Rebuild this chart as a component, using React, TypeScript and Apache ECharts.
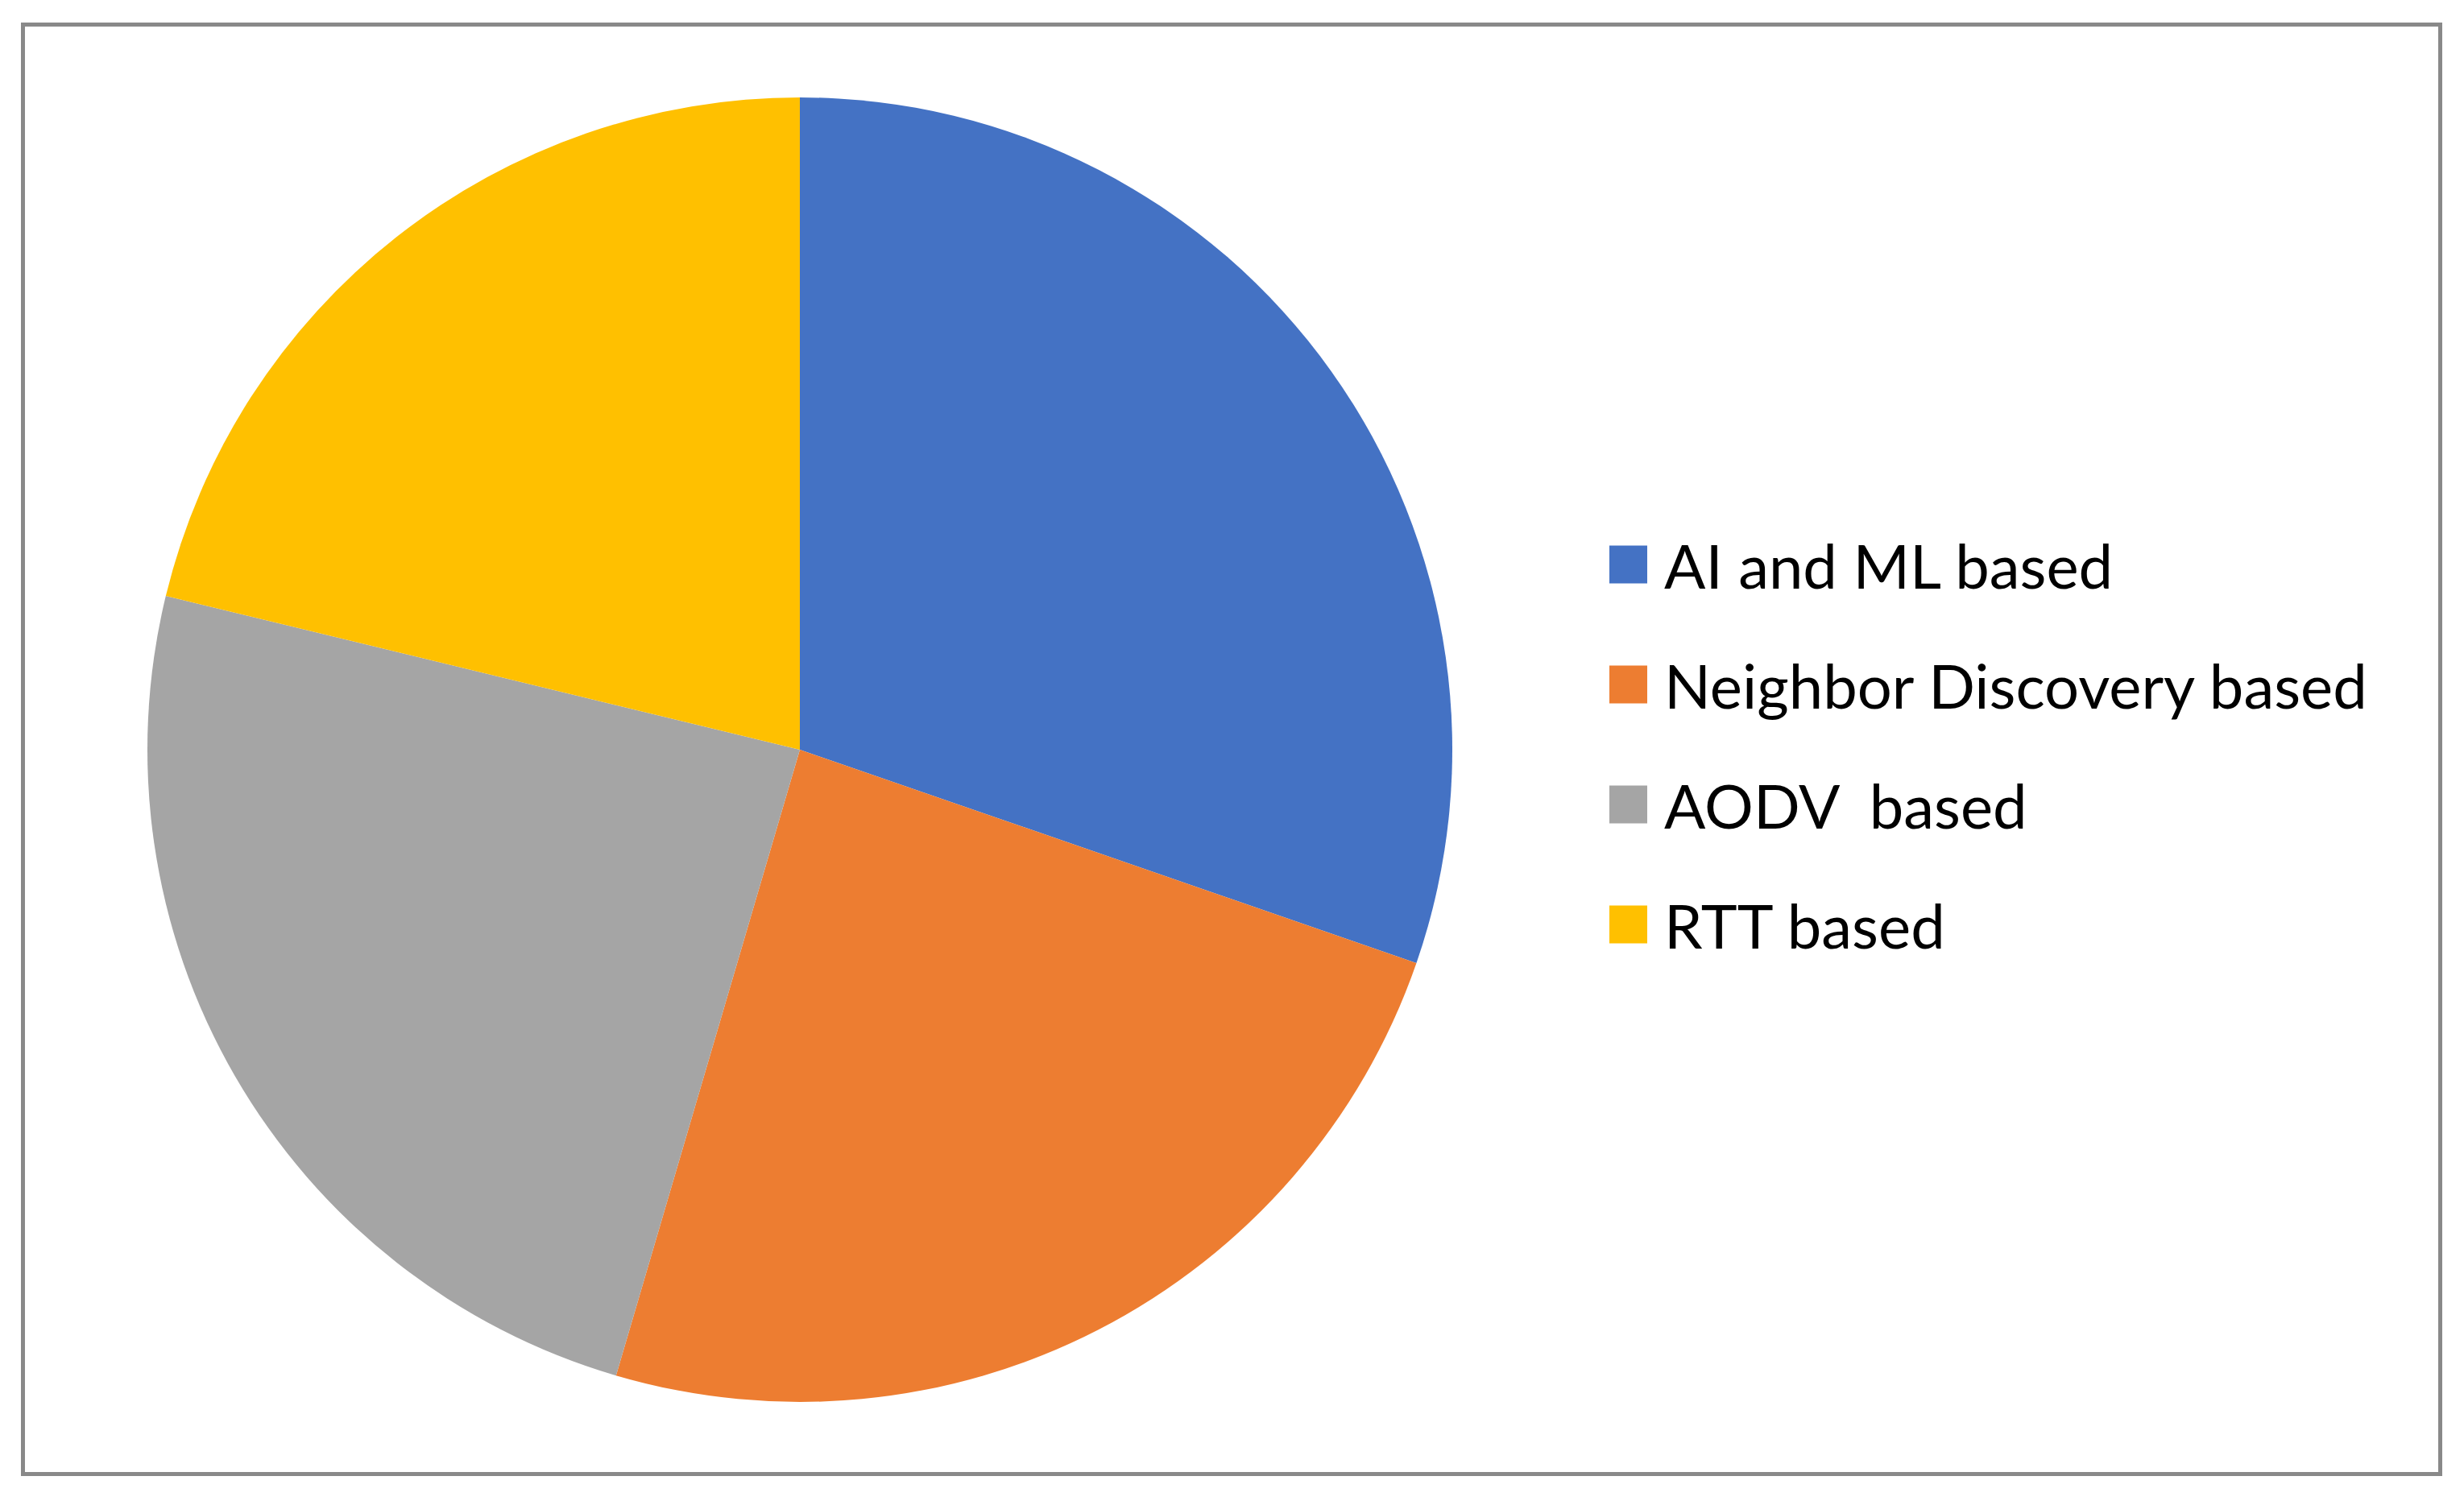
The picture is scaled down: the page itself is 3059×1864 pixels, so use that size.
import React, { useEffect, useRef } from "react";
import * as echarts from "echarts";

const categories = ["AI and ML based", "Neighbor Discovery based", "AODV  based", "RTT based"];
const values = [10, 8, 8, 7];
const colors = ["#4472C4", "#ED7D31", "#A5A5A5", "#FFC000"];

export default function App() {
  const ref = useRef<HTMLDivElement>(null);
  useEffect(() => {
    document.body.style.margin = "0";
    const chart = echarts.init(ref.current!, null, { renderer: "svg" });
    chart.setOption({
      animation: false,
      backgroundColor: "#ffffff",
      graphic: [
        {
          type: "rect",
          shape: { x: 28.5, y: 30.5, width: 3001, height: 1800 },
          style: { fill: "none", stroke: "#898989", lineWidth: 5 },
          z: 10,
        },
      ],
      legend: {
        orient: "vertical",
        left: 1998,
        top: 663,
        padding: 0,
        itemWidth: 47,
        itemHeight: 47,
        itemGap: 73,
        icon: "rect",
        selectedMode: false,
        data: categories,
        textStyle: {
          fontFamily: "Lato",
          fontSize: 76,
          color: "#000000",
          padding: [0, 0, 0, 16],
        },
      },
      series: [
        {
          type: "pie",
          center: [993, 931],
          radius: 810,
          startAngle: 90,
          clockwise: true,
          label: { show: false },
          labelLine: { show: false },
          itemStyle: { borderWidth: 0 },
          emphasis: { disabled: true },
          data: categories.map((name, i) => ({
            name,
            value: values[i],
            itemStyle: { color: colors[i] },
          })),
        },
      ],
    });
    return () => chart.dispose();
  }, []);
  return (
    <div
      ref={ref}
      style={{ position: "absolute", left: 0, top: 0, width: 3059, height: 1864 }}
    />
  );
}
